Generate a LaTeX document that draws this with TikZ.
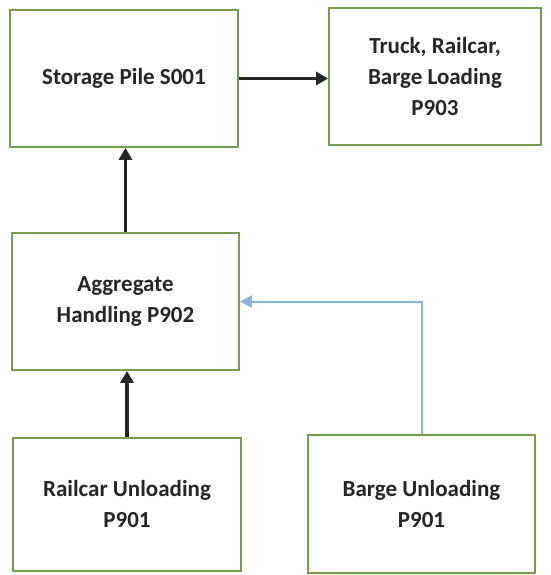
\documentclass[tikz,border=0pt]{standalone}
\usepackage{fontspec}
\setmainfont{Carlito}
\usetikzlibrary{arrows.meta}
\definecolor{boxgreen}{RGB}{118,156,78}
\definecolor{flowblue}{RGB}{136,180,222}
\definecolor{inkgray}{RGB}{38,38,38}
\tikzset{
  unit/.style={
    draw=boxgreen, fill=white, line width=1.8pt,
    minimum width=#1, inner sep=2pt, align=center,
    text=inkgray, font=\bfseries\fontsize{23}{31}\selectfont
  },
  flow/.style={inkgray, line width=3.3pt,
    -{Triangle[length=12pt,width=13pt]}},
  sideflow/.style={flowblue, line width=2pt,
    -{Triangle[length=12pt,width=12pt]}}
}

\begin{document}
\begin{tikzpicture}[x=1pt,y=1pt]
  \useasboundingbox (0,0) rectangle (550,-575);
  % process units
  \node[unit=228pt, minimum height=137pt] (store) at (124,-78.5) {Storage Pile S001};
  \node[unit=212pt, minimum height=137pt] (load)  at (435,-76.5) {Truck, Railcar,\\Barge Loading\\P903};
  \node[unit=227pt, minimum height=137pt] (agg)   at (125.5,-301.5) {Aggregate\\Handling P902};
  \node[unit=228pt, minimum height=133pt] (rail)  at (127,-504.5) {Railcar Unloading\\P901};
  \node[unit=227pt, minimum height=138pt] (barge) at (421.5,-504) {Barge Unloading\\P901};
  % material flow
  \draw[flow] (store.east) -- (store.east -| load.west);
  \draw[flow] (agg.north) -- (agg.north |- store.south);
  \draw[flow] (rail.north) -- (rail.north |- agg.south);
  \draw[sideflow] (barge.north) |- (agg.east);
\end{tikzpicture}
\end{document}
